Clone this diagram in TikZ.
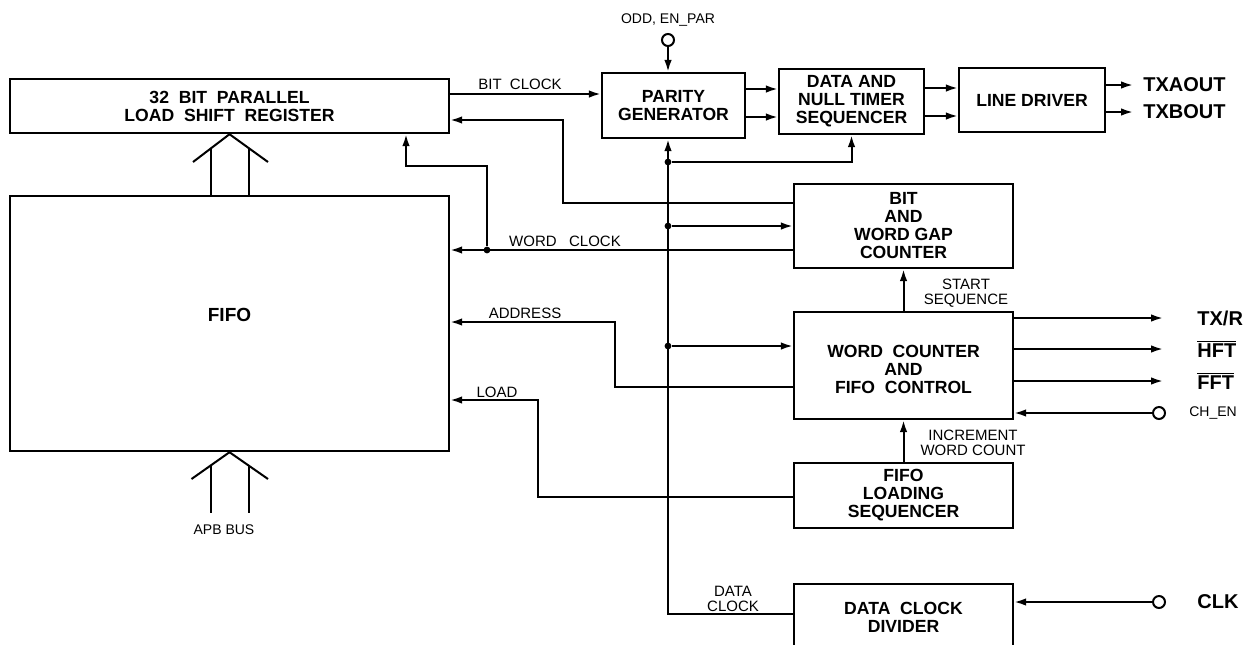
\documentclass[tikz,border=0pt]{standalone}
\usepackage{fontspec}
\setmainfont{Liberation Sans}
\usetikzlibrary{arrows.meta}

\tikzset{
  blk/.style={draw, line width=1.2pt, align=center, inner sep=0pt,
    font=\fontsize{8.8}{9}\selectfont\bfseries},
  lbl/.style={inner sep=0pt, align=center, font=\fontsize{7.5}{7.5}\selectfont},
  pinlbl/.style={inner sep=0pt, anchor=west, font=\fontsize{10}{12}\selectfont\bfseries},
  ring/.style={draw, circle, line width=1pt, minimum size=6pt, inner sep=0pt},
  wire/.style={line width=1pt},
  arr/.style={wire, -{Latex[length=6pt,width=3.8pt]}},
  jdot/.style={fill, circle, inner sep=0pt, minimum size=3.4pt}
}

\begin{document}
\begin{tikzpicture}[x=0.5pt, y=-0.5pt]
    \useasboundingbox (0,0) rectangle (1245,644);
    % Blocos
    \node[blk, minimum width=219.5pt, minimum height=27pt] (sr) at (229.5,106) {32~~BIT~~PARALLEL\\LOAD~~SHIFT~~REGISTER};
    \node[blk, minimum width=71.5pt, minimum height=32.5pt] (pg) at (673.5,105.5) {PARITY\\GENERATOR};
    \node[blk, minimum width=72.5pt, minimum height=32.5pt] (dn) at (851.5,101.5) {DATA AND\\NULL TIMER\\SEQUENCER};
    \node[blk, minimum width=73pt, minimum height=32pt] (ld) at (1032,100) {LINE DRIVER};
    \node[blk, minimum width=219.5pt, minimum height=127.5pt] (fifo) at (229.5,323.5) {};
    \node[font=\fontsize{9.5}{9.5}\selectfont\bfseries] (fifotxt) at (229.5,315) {FIFO};
    \node[blk, minimum width=109.5pt, minimum height=42pt] (bc) at (903.5,226) {BIT\\AND\\WORD GAP\\COUNTER};
    \node[blk, minimum width=109.5pt, minimum height=53.5pt] (wc) at (903.5,365.5) {};
    \node[blk, draw=none] (wctxt) at (903.5,369.5) {WORD~~COUNTER\\AND\\FIFO~~CONTROL};
    \node[blk, minimum width=109.5pt, minimum height=32.5pt] (fls) at (903.5,495.5) {FIFO\\LOADING\\SEQUENCER};
    \node[blk, minimum width=109.5pt, minimum height=33pt] (dcd) at (903.5,617) {DATA~~CLOCK\\DIVIDER};

    % Entradas e saidas
    \node[lbl, font=\fontsize{7}{7}\selectfont] (lodd) at (668,20) {ODD, EN\_PAR};
    \node[ring] (odd) at (668,40) {};
    \node[pinlbl] (txa) at (1143,85) {TXAOUT};
    \node[pinlbl] (txb) at (1143,112) {TXBOUT};
    \node[pinlbl] (txr) at (1197,318) {TX/R};
    \node[pinlbl] (hft) at (1197,349) {$\overline{\hbox{HFT}}$};
    \node[pinlbl] (fft) at (1197,381) {$\overline{\hbox{FFT}}$};
    \node[ring] (chen) at (1159,413) {};
    \node[lbl, font=\fontsize{7}{7}\selectfont] (lchen) at (1213,413) {CH\_EN};
    \node[ring] (clkc) at (1159,602) {};
    \node[pinlbl] (clk) at (1197,602) {CLK};

    % Rotulos dos sinais
    \node[lbl] (lbit) at (520,84) {BIT~~CLOCK};
    \node[lbl] (lword) at (565,241) {WORD~~~CLOCK};
    \node[lbl] (laddr) at (525,313) {ADDRESS};
    \node[lbl] (lload) at (497,392) {LOAD};
    \node[lbl] (lstart) at (966,293) {START\\SEQUENCE};
    \node[lbl] (linc) at (973,443) {INCREMENT\\WORD COUNT};
    \node[lbl] (ldclk) at (733,599) {DATA\\CLOCK};
    \node[lbl, font=\fontsize{7}{7}\selectfont] (lapb) at (224,530) {APB BUS};

    % Caminho de dados
    \draw[arr] (odd.south) -- (odd.south |- pg.north);
    \draw[arr] (sr.east |- 0,94) -- (pg.west |- 0,94);
    \draw[arr] (pg.east |- 0,89) -- (dn.west |- 0,89);
    \draw[arr] (pg.east |- 0,117) -- (dn.west |- 0,117);
    \draw[arr] (dn.east |- 0,88) -- (ld.west |- 0,88);
    \draw[arr] (dn.east |- 0,116) -- (ld.west |- 0,116);
    \draw[arr] (ld.east |- txa.west) -- ([xshift=-5pt]txa.west);
    \draw[arr] (ld.east |- txb.west) -- ([xshift=-5pt]txb.west);

    % Relogio de dados
    \coordinate (dclk) at (668,614);
    \draw[arr] (dcd.west |- dclk) -- (dclk) -- (dclk |- pg.south);
    \node[jdot] (j1) at (668,162) {};
    \node[jdot] (j2) at (668,226) {};
    \node[jdot] (j3) at (668,346) {};
    \draw[arr] (j1) -| (dn.south);
    \draw[arr] (j2) -- (j2 -| bc.west);
    \draw[arr] (j3) -- (j3 -| wc.west);

    % Controle
    \draw[arr] (bc.west |- 0,203) -| (563,120) -- (sr.east |- 0,120);
    \node[jdot] (jw) at (487,250) {};
    \draw[arr] (bc.west |- jw) -- (fifo.east |- jw);
    \draw[arr] (jw) |- (406,166) -- (sr.south -| 406,0);
    \draw[arr] (wc.west |- 0,387) -| (615,322) -- (fifo.east |- 0,322);
    \draw[arr] (fls.west |- 0,497) -| (538,400) -- (fifo.east |- 0,400);
    \draw[arr] (wc.north) -- (bc.south);
    \draw[arr] (fls.north) -- (wc.south);
    \foreach \o in {txr,hft,fft}
        \draw[arr] (wc.east |- \o.west) -- ([xshift=-17pt]\o.west);
    \draw[arr] (chen.west) -- (chen.west -| wc.east);
    \draw[arr] (clkc.west) -- (clkc.west -| dcd.east);

    % Barramentos
    \draw[wire] (193,162) -- (sr.south) -- (268,162);
    \draw[wire] (211,148) -- (fifo.north -| 211,0);
    \draw[wire] (249,148) -- (fifo.north -| 249,0);
    \draw[wire] (191.5,479) -- (fifo.south) -- (268,479);
    \draw[wire] (211,465) -- (211,513);
    \draw[wire] (249,465) -- (249,513);
\end{tikzpicture}
\end{document}
